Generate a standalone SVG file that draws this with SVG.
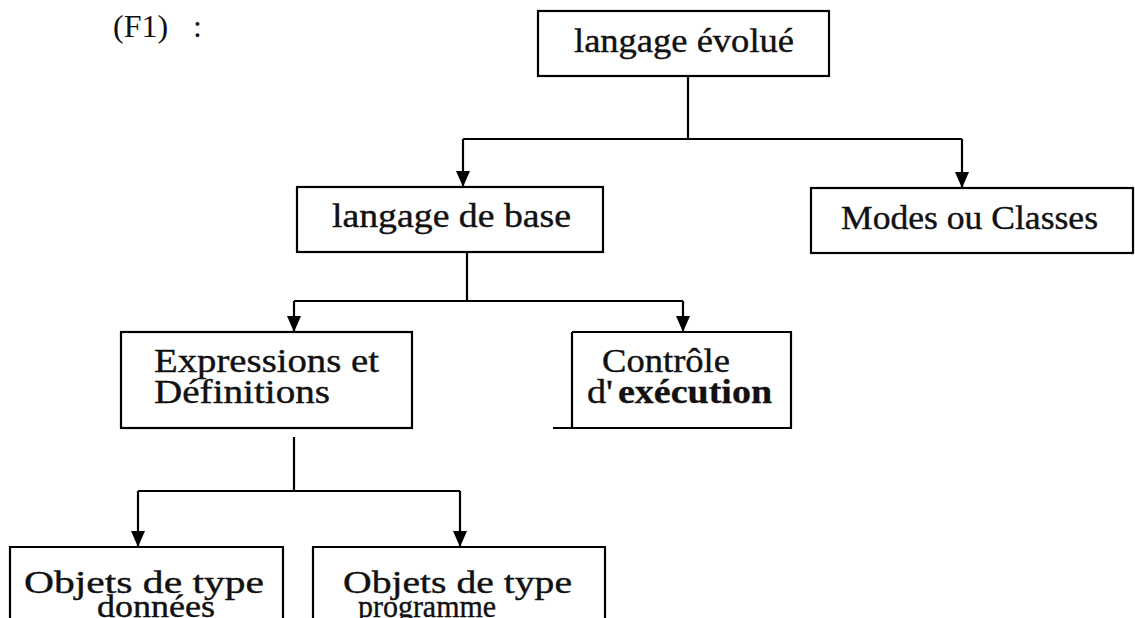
<svg xmlns="http://www.w3.org/2000/svg" width="1135" height="618" viewBox="0 0 1135 618">
  <defs>
    <marker id="head" markerUnits="userSpaceOnUse" markerWidth="16" markerHeight="18" refX="16" refY="7" orient="auto">
      <path d="M0,0 L16,7 L0,14 Z" fill="#000"/>
    </marker>
    <style>
      .box { fill: #fff; stroke: #000; stroke-width: 2.2; }
      .open { fill: none; stroke: #000; stroke-width: 2.2; }
      .wire { fill: none; stroke: #000; stroke-width: 2.2; }
      .arrow { fill: none; stroke: #000; stroke-width: 2.2; marker-end: url(#head); }
      .t { font-family: "Liberation Serif", "Times New Roman", serif; font-size: 34px; fill: #111; stroke: #111; stroke-width: 0.4; }
      .sm { font-size: 32px; }
      .b { font-weight: bold; stroke-width: 0.3; }
      .cap { font-family: "Liberation Serif", "Times New Roman", serif; font-size: 32px; fill: #111; }
    </style>
  </defs>

  <rect width="1135" height="618" fill="#fff"/>

  <text class="cap" x="113" y="37">(F1)</text>
  <text class="cap" x="193" y="37">:</text>

  <!-- connectors -->
  <g id="connectors">
    <path class="wire" d="M688,76 V139 M463,139 H962"/>
    <path class="arrow" d="M463,139 V187"/>
    <path class="arrow" d="M962,139 V188"/>

    <path class="wire" d="M467,252 V301 M294,301 H683"/>
    <path class="arrow" d="M294,301 V332"/>
    <path class="arrow" d="M683,301 V332"/>

    <path class="wire" d="M294,437 V491 M138,491 H460"/>
    <path class="arrow" d="M138,491 V547"/>
    <path class="arrow" d="M460,491 V547"/>
  </g>

  <g id="langage-evolue">
    <rect class="box" x="538" y="11" width="291" height="65"/>
    <text class="t" x="574" y="52" textLength="220" lengthAdjust="spacingAndGlyphs">langage évolué</text>
  </g>

  <g id="langage-de-base">
    <rect class="box" x="297" y="187" width="306" height="65"/>
    <text class="t" x="332" y="227" textLength="239" lengthAdjust="spacingAndGlyphs">langage de base</text>
  </g>

  <g id="modes-classes">
    <rect class="box" x="811" y="188" width="322" height="65"/>
    <text class="t" x="841" y="229" textLength="257" lengthAdjust="spacingAndGlyphs">Modes ou Classes</text>
  </g>

  <g id="expressions">
    <rect class="box" x="121" y="332" width="291" height="96"/>
    <text class="t" x="154" y="372" textLength="225" lengthAdjust="spacingAndGlyphs">Expressions et</text>
    <text class="t" x="154" y="403" textLength="176" lengthAdjust="spacingAndGlyphs">Définitions</text>
  </g>

  <g id="controle">
    <path class="open" d="M572,332 H791 V428 H553 M572,332 V428"/>
    <text class="t" x="602" y="372" textLength="128" lengthAdjust="spacingAndGlyphs">Contrôle</text>
    <text class="t" x="587" y="403" textLength="26" lengthAdjust="spacingAndGlyphs">d'</text>
    <text class="t b" x="618" y="403" textLength="154" lengthAdjust="spacingAndGlyphs">exécution</text>
  </g>

  <g id="objets-donnees">
    <path class="open" d="M10,618 V547 H283 V618"/>
    <text class="t sm" x="24" y="593" textLength="240" lengthAdjust="spacingAndGlyphs">Objets de type</text>
    <text class="t sm" x="97" y="617" textLength="118" lengthAdjust="spacingAndGlyphs">données</text>
  </g>

  <g id="objets-programme">
    <path class="open" d="M313,618 V547 H605 V618"/>
    <text class="t sm" x="343" y="593" textLength="229" lengthAdjust="spacingAndGlyphs">Objets de type</text>
    <text class="t sm" x="358" y="617" textLength="138" lengthAdjust="spacingAndGlyphs">programme</text>
  </g>
</svg>
